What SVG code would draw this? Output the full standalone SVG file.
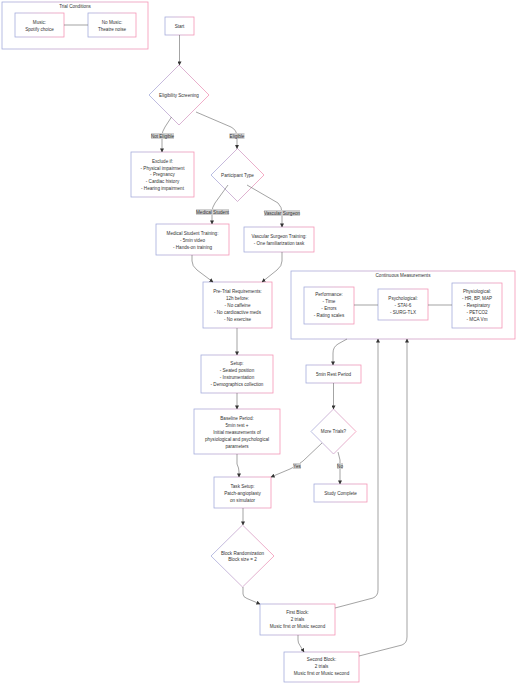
<svg xmlns="http://www.w3.org/2000/svg" width="517" height="685" viewBox="0 0 517 685">
<defs>
<linearGradient id="g" x1="0" y1="0" x2="1" y2="0">
<stop offset="0" stop-color="#9fa8da"/>
<stop offset="1" stop-color="#f48fb1"/>
</linearGradient>
<marker id="ah" viewBox="0 0 10 10" refX="9" refY="5" markerWidth="4" markerHeight="4" markerUnits="userSpaceOnUse" orient="auto">
<path d="M0,0 L10,5 L0,10 z" fill="#333"/>
</marker>
</defs>
<style>
.n{fill:#fff;stroke:url(#g);stroke-width:0.75}
.c{fill:#fff;stroke:url(#g);stroke-width:0.75}
text{font-family:"Liberation Sans",Arial,sans-serif;font-size:4.6px;fill:#333;text-anchor:middle;dominant-baseline:central}
.e{fill:none;stroke:#666;stroke-width:0.6}
.ea{fill:none;stroke:#666;stroke-width:0.6;marker-end:url(#ah)}
.lb{fill:#d0d0d0}
</style>
<rect width="517" height="685" fill="#fff"/>

<g id="trial-conditions">
<rect class="c" x="2" y="2" width="146" height="47"/>
<text x="75" y="6">Trial Conditions</text>
</g>
<g id="music">
<rect class="n" x="15" y="13" width="49" height="24"/>
<text x="39.5" y="22">Music:</text>
<text x="39.5" y="29">Spotify choice</text>
</g>
<g id="nomusic">
<rect class="n" x="88" y="13" width="48" height="24"/>
<text x="112" y="22">No Music:</text>
<text x="112" y="29">Theatre noise</text>
</g>

<g id="continuous">
<rect class="c" x="291" y="271" width="224" height="68"/>
<text x="403" y="275">Continuous Measurements</text>
</g>
<g id="performance">
<rect class="n" x="304" y="287" width="50" height="37"/>
<text x="329" y="294">Performance:</text>
<text x="329" y="301">- Time</text>
<text x="329" y="308">- Errors</text>
<text x="329" y="315">- Rating scales</text>
</g>
<g id="psychological">
<rect class="n" x="378" y="289" width="50" height="31"/>
<text x="403" y="298">Psychological:</text>
<text x="403" y="305">- STAI-6</text>
<text x="403" y="312">- SURG-TLX</text>
</g>
<g id="physiological">
<rect class="n" x="452" y="283" width="50" height="45"/>
<text x="477" y="291">Physiological:</text>
<text x="477" y="298">- HR, BP, MAP</text>
<text x="477" y="305">- Respiratory</text>
<text x="477" y="312">- PETCO2</text>
<text x="477" y="319">- MCA Vm</text>
</g>

<g id="start">
<rect class="n" x="165" y="17" width="29" height="18"/>
<text x="179.5" y="26">Start</text>
</g>
<g id="eligibility">
<polygon class="n" points="179,65 209,95 179,125 149,95"/>
<text x="179" y="95">Eligibility Screening</text>
</g>
<g id="exclude">
<rect class="n" x="131" y="152" width="63" height="45"/>
<text x="162.5" y="161">Exclude if:</text>
<text x="162.5" y="168">- Physical impairment</text>
<text x="162.5" y="174.5">- Pregnancy</text>
<text x="162.5" y="181.5">- Cardiac history</text>
<text x="162.5" y="188.5">- Hearing impairment</text>
</g>
<g id="participant">
<polygon class="n" points="237.5,148.5 264,175 237.5,201.5 211,175"/>
<text x="237.5" y="175">Participant Type</text>
</g>
<g id="medical">
<rect class="n" x="156" y="224" width="73" height="31"/>
<text x="192.5" y="233">Medical Student Training:</text>
<text x="192.5" y="240">- 5min video</text>
<text x="192.5" y="247">- Hands-on training</text>
</g>
<g id="vascular">
<rect class="n" x="244" y="227" width="70" height="25"/>
<text x="279" y="236">Vascular Surgeon Training:</text>
<text x="279" y="243">- One familiarization task</text>
</g>
<g id="pretrial">
<rect class="n" x="203" y="282" width="69" height="46"/>
<text x="237.5" y="291">Pre-Trial Requirements:</text>
<text x="237.5" y="298">12h before:</text>
<text x="237.5" y="305">- No caffeine</text>
<text x="237.5" y="312">- No cardioactive meds</text>
<text x="237.5" y="319">- No exercise</text>
</g>
<g id="setup">
<rect class="n" x="201" y="355" width="72" height="38"/>
<text x="237" y="363">Setup:</text>
<text x="237" y="370">- Seated position</text>
<text x="237" y="377">- Instrumentation</text>
<text x="237" y="384">- Demographics collection</text>
</g>
<g id="baseline">
<rect class="n" x="194" y="409" width="86" height="45"/>
<text x="237" y="418">Baseline Period:</text>
<text x="237" y="425">5min rest +</text>
<text x="237" y="432">Initial measurements of</text>
<text x="237" y="439">physiological and psychological</text>
<text x="237" y="446">parameters</text>
</g>
<g id="tasksetup">
<rect class="n" x="214" y="477" width="57" height="31"/>
<text x="242.5" y="486">Task Setup:</text>
<text x="242.5" y="493">Patch-angioplasty</text>
<text x="242.5" y="500">on simulator</text>
</g>
<g id="blockrand">
<polygon class="n" points="242.5,525 274,556 242.5,587 211,556"/>
<text x="242.5" y="553">Block Randomization</text>
<text x="242.5" y="559.5">Block size = 2</text>
</g>
<g id="firstblock">
<rect class="n" x="260" y="604" width="75" height="31"/>
<text x="297.5" y="612">First Block:</text>
<text x="297.5" y="619">2 trials</text>
<text x="297.5" y="626">Music first or Music second</text>
</g>
<g id="secondblock">
<rect class="n" x="284" y="652" width="75" height="30"/>
<text x="321.5" y="659">Second Block:</text>
<text x="321.5" y="666">2 trials</text>
<text x="321.5" y="673">Music first or Music second</text>
</g>
<g id="rest">
<rect class="n" x="306" y="365" width="55" height="18"/>
<text x="333.5" y="374">5min Rest Period</text>
</g>
<g id="moretrials">
<polygon class="n" points="333.5,409 356,431.5 333.5,454 311,431.5"/>
<text x="333.5" y="431.5">More Trials?</text>
</g>
<g id="studycomplete">
<rect class="n" x="314" y="484" width="53" height="18"/>
<text x="340.5" y="493">Study Complete</text>
</g>

<g id="connectors">
<path class="e" d="M64,25 L88,25"/>
<path class="e" d="M354,305 L378,305"/>
<path class="e" d="M428,305 L452,305"/>
<path class="ea" d="M179.5,35 L179.5,65"/>
<path class="ea" d="M171.5,117 L165,127 Q162,131 162,137 L162,152"/>
<path class="ea" d="M196,112 L231,127 Q237,130 237,137 L237,148.5"/>
<path class="ea" d="M228,185 L215,203 Q212,207 212,213 L212,224"/>
<path class="ea" d="M247,185 L278,203 Q282,207 282,213 L282,227"/>
<path class="ea" d="M192,255 L192,261 Q192,266 197,270 L213,282"/>
<path class="ea" d="M282,252 L282,261 Q282,266 277,270 L262,282"/>
<path class="ea" d="M237,328 L237,355"/>
<path class="ea" d="M237,393 L237,409"/>
<path class="ea" d="M237,454 L237,464 Q239,468 239,472 L239,477"/>
<path class="ea" d="M243,508 L243,525"/>
<path class="ea" d="M243,587 L243,594 Q243,597 247,598.5 L260,604"/>
<path class="ea" d="M298,635 L298,640 Q298,643 300,645.5 L304,652"/>
<path class="ea" d="M335,608 L373,598 Q378,596 378,590 L378,339"/>
<path class="ea" d="M359,656 L402,645 Q407,643 407,637 L407,339"/>
<path class="ea" d="M347,339 L338,344 Q333,347 333,353 L333,365"/>
<path class="ea" d="M333.5,383 L333.5,409"/>
<path class="ea" d="M322,443 L303,461 Q297,466 290,469 L271,477"/>
<path class="ea" d="M338,452 L340,460 L340,484"/>
<rect class="lb" x="151" y="133" width="23" height="6"/>
<text x="162.5" y="136">Not Eligible</text>
<rect class="lb" x="229.5" y="133" width="15" height="6"/>
<text x="237" y="136">Eligible</text>
<rect class="lb" x="196" y="209" width="33" height="6"/>
<text x="212.5" y="212">Medical Student</text>
<rect class="lb" x="264" y="210" width="36" height="6"/>
<text x="282" y="213">Vascular Surgeon</text>
<rect class="lb" x="293" y="463" width="8" height="6"/>
<text x="297" y="466">Yes</text>
<rect class="lb" x="337" y="463" width="6" height="6"/>
<text x="340" y="466">No</text>
</g>
</svg>
